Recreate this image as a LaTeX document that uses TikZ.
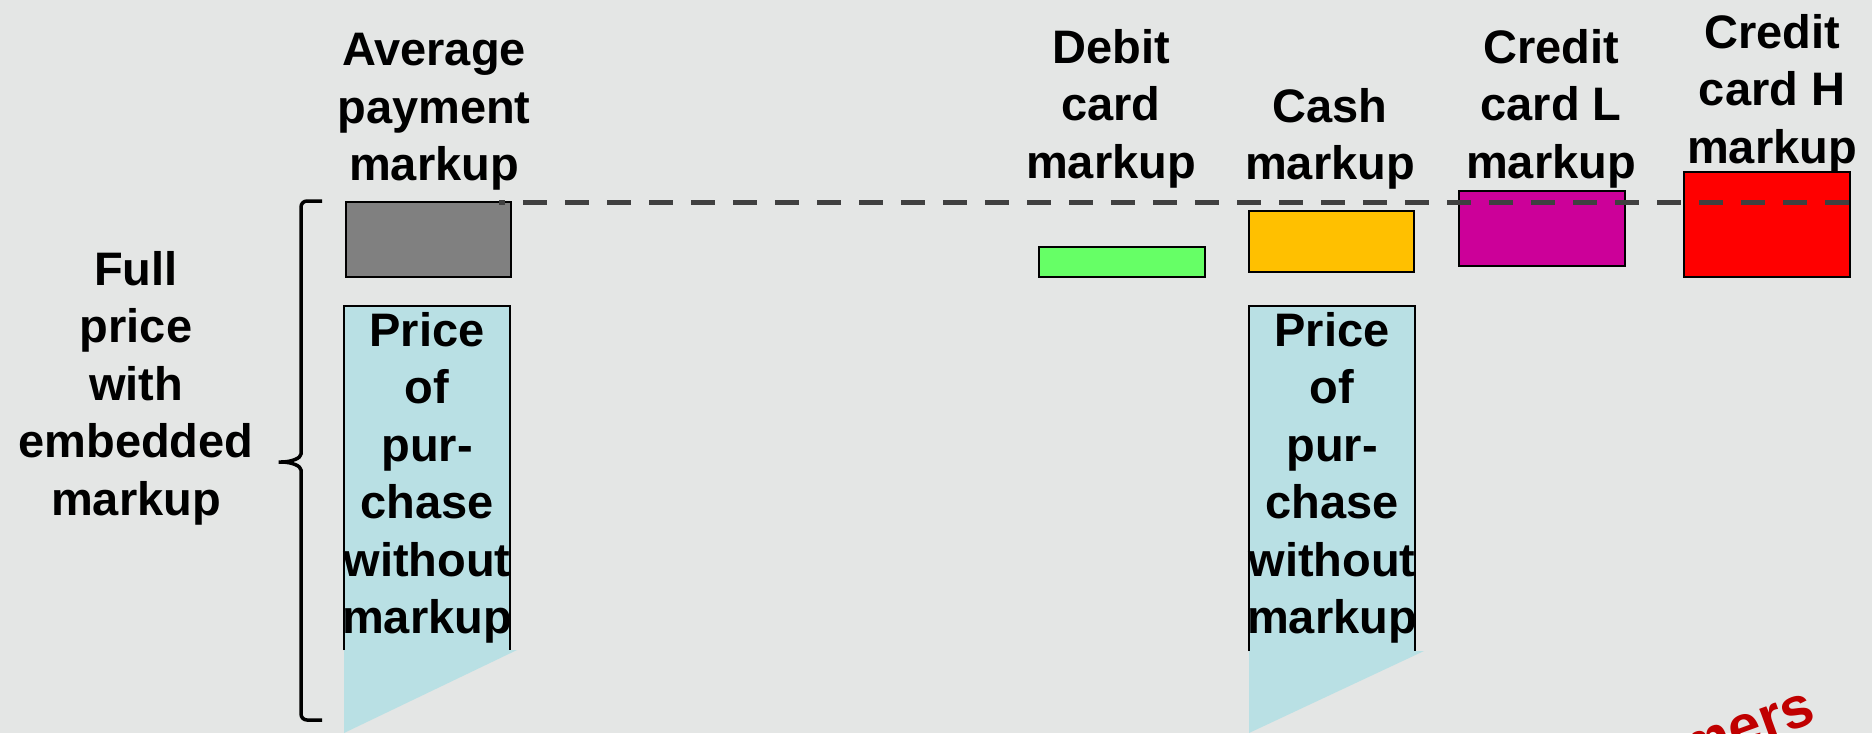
\documentclass[tikz,border=0pt]{standalone}
\usepackage{fontspec}
\setmainfont{Liberation Sans}
\definecolor{bgcol}{HTML}{E4E6E5}
\definecolor{avgcol}{HTML}{808080}
\definecolor{debitcol}{HTML}{66FF66}
\definecolor{cashcol}{HTML}{FFC000}
\definecolor{credlcol}{HTML}{CC0099}
\definecolor{credhcol}{HTML}{FF0000}
\definecolor{pricecol}{HTML}{B9E0E4}
\definecolor{dashcol}{HTML}{404040}
\definecolor{notecol}{HTML}{C00000}
\begin{document}
\begin{tikzpicture}[x=0.5pt,y=-0.5pt,
  lbl/.style={font=\bfseries\fontsize{23.5pt}{28.75pt}\selectfont,
              align=center, anchor=north, inner sep=0pt, text=black},
  bar/.style={draw=black, line width=1pt},
  brace/.style={draw=black, line width=1.75pt, rounded corners=3pt},
  level/.style={draw=dashcol, line width=2.5pt, dash pattern=on 12pt off 9pt, dash phase=9pt}]
\fill[bgcol] (0,0) rectangle (1872,733);
\useasboundingbox (0,0) rectangle (1872,733);

% markup bars
\draw[bar, fill=avgcol]   (346,202) rectangle (511,277);
\draw[bar, fill=debitcol] (1039,247) rectangle (1205,277);
\draw[bar, fill=cashcol]  (1249,211) rectangle (1414,272);
\draw[bar, fill=credlcol] (1459,191) rectangle (1625,266);
\draw[bar, fill=credhcol] (1684,172) rectangle (1850,277);

% price blocks without markup (open at the bottom, fading wedge below)
\fill[pricecol] (344,306) rectangle (510,650);
\fill[pricecol] (344,650) -- (517,650) -- (344,733) -- cycle;
\draw[line width=1pt] (344,650) -- (344,306) -- (510,306) -- (510,650);
\fill[pricecol] (1249,306) rectangle (1415,651);
\fill[pricecol] (1249,651) -- (1424,651) -- (1249,733) -- cycle;
\draw[line width=1pt] (1249,651) -- (1249,306) -- (1415,306) -- (1415,651);

% average level
\coordinate (lvlA) at (499,202);
\coordinate (lvlB) at (1850,202);
\draw[level] (lvlA) -- (lvlB);

% labels
\node[lbl] (avgl)   at (434,33)  {Average\\payment\\markup};
\node[lbl] (debitl) at (1111,29) {Debit\\card\\markup};
\node[lbl] (cashl)  at (1330,88) {Cash\\markup};
\node[lbl] (credll) at (1551,29) {Credit\\card L\\markup};
\node[lbl] (credhl) at (1772,14) {Credit\\card H\\markup};
\node[lbl] (fulll)  at (136,251) {Full\\price\\with\\embedded\\markup};
\node[lbl] (pricel) at (427,312) {Price\\of\\pur-\\chase\\without\\markup};
\node[lbl] (pricer) at (1332,312) {Price\\of\\pur-\\chase\\without\\markup};

% brace spanning the full price
\draw[brace] (322,201) -- (301,201) -- (301,448)
  .. controls (301,458) and (292,462) .. (275,462)
  .. controls (292,462) and (301,466) .. (301,476)
  -- (301,720) -- (322,720);

% slanted note running off the bottom edge
\begin{scope}
\clip (0,0) rectangle (1872,733);
\node[rotate=20, anchor=base east, inner sep=0pt, text=notecol,
      font=\bfseries\fontsize{29pt}{34pt}\selectfont] (note) at (1818,721) {mers};
\end{scope}
\end{tikzpicture}
\end{document}
